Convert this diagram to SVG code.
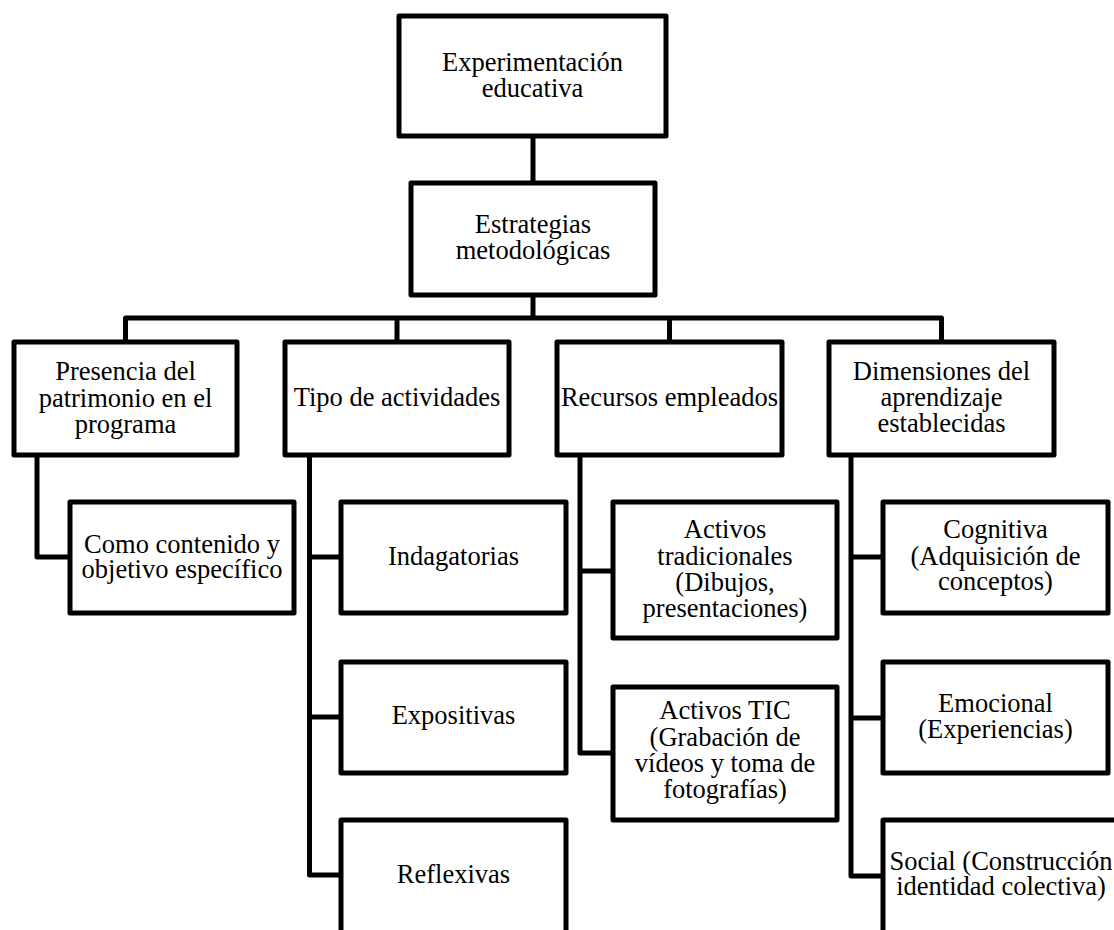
<svg xmlns="http://www.w3.org/2000/svg" width="1114" height="930" viewBox="0 0 1114 930">
<style>
.box{fill:#fff;stroke:#000;stroke-width:5;stroke-linejoin:round}
.ln{fill:none;stroke:#000;stroke-width:5;stroke-linejoin:round;stroke-linecap:butt}
text{font-family:"Liberation Serif","Times New Roman",serif;font-size:26.5px;fill:#000;text-anchor:middle}
</style>
<rect width="1114" height="930" fill="#fff"/>
<g id="connectors">
<path class="ln" d="M533 136V183"/>
<path class="ln" d="M533 295V318"/>
<path class="ln" d="M125.5 342V318H941.5V342"/>
<path class="ln" d="M397 318V342"/>
<path class="ln" d="M669.5 318V342"/>
<path class="ln" d="M37 455V557H70"/>
<path class="ln" d="M309.5 455V875H341"/>
<path class="ln" d="M309.5 557H341"/>
<path class="ln" d="M309.5 717H341"/>
<path class="ln" d="M580 455V753H613"/>
<path class="ln" d="M580 571H613"/>
<path class="ln" d="M851 455V876H883"/>
<path class="ln" d="M851 557H883"/>
<path class="ln" d="M851 718H883"/>
</g>
<g id="n-experimentacion">
<rect class="box" x="399" y="16" width="267" height="120"/>
<text x="532.5" y="71">Experimentación</text>
<text x="532.5" y="97">educativa</text>
</g>
<g id="n-estrategias">
<rect class="box" x="411" y="183" width="244" height="112"/>
<text x="533" y="233">Estrategias</text>
<text x="533" y="259">metodológicas</text>
</g>
<g id="n-presencia">
<rect class="box" x="14" y="342" width="223" height="113"/>
<text x="125.5" y="380">Presencia del</text>
<text x="125.5" y="407">patrimonio en el</text>
<text x="125.5" y="433">programa</text>
</g>
<g id="n-tipo">
<rect class="box" x="285" y="342" width="224" height="113"/>
<text x="397" y="406">Tipo de actividades</text>
</g>
<g id="n-recursos">
<rect class="box" x="557" y="342" width="225" height="113"/>
<text x="669.5" y="406">Recursos empleados</text>
</g>
<g id="n-dimensiones">
<rect class="box" x="829" y="342" width="225" height="113"/>
<text x="941.5" y="380">Dimensiones del</text>
<text x="941.5" y="406">aprendizaje</text>
<text x="941.5" y="432">establecidas</text>
</g>
<g id="n-como">
<rect class="box" x="70" y="502" width="224" height="111"/>
<text x="182" y="553">Como contenido y</text>
<text x="182" y="578">objetivo específico</text>
</g>
<g id="n-indagatorias">
<rect class="box" x="341" y="502" width="225" height="111"/>
<text x="453.5" y="565">Indagatorias</text>
</g>
<g id="n-expositivas">
<rect class="box" x="341" y="662" width="225" height="111"/>
<text x="453.5" y="724">Expositivas</text>
</g>
<g id="n-reflexivas">
<rect class="box" x="341" y="820" width="225" height="118"/>
<text x="453.5" y="883">Reflexivas</text>
</g>
<g id="n-activos-tradicionales">
<rect class="box" x="613" y="502" width="224" height="136"/>
<text x="725" y="538">Activos</text>
<text x="725" y="564.5">tradicionales</text>
<text x="725" y="591">(Dibujos,</text>
<text x="725" y="617">presentaciones)</text>
</g>
<g id="n-activos-tic">
<rect class="box" x="613" y="687" width="224" height="133"/>
<text x="725" y="719">Activos TIC</text>
<text x="725" y="746">(Grabación de</text>
<text x="725" y="772">vídeos y toma de</text>
<text x="725" y="798">fotografías)</text>
</g>
<g id="n-cognitiva">
<rect class="box" x="883" y="502" width="225" height="111"/>
<text x="995.5" y="538">Cognitiva</text>
<text x="995.5" y="565">(Adquisición de</text>
<text x="995.5" y="590">conceptos)</text>
</g>
<g id="n-emocional">
<rect class="box" x="883" y="662" width="225" height="111"/>
<text x="995.5" y="712">Emocional</text>
<text x="995.5" y="738">(Experiencias)</text>
</g>
<g id="n-social">
<rect class="box" x="883" y="820" width="240" height="118"/>
<text x="1001" y="870">Social (Construcción</text>
<text x="1001" y="895">identidad colectiva)</text>
</g>
</svg>
